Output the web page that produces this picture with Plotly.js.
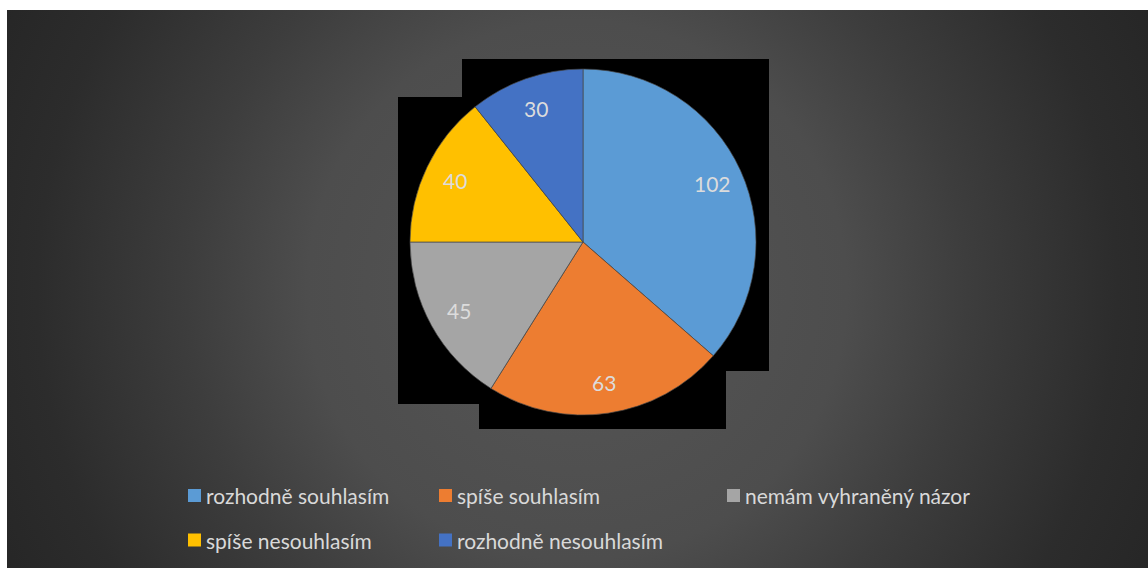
<!DOCTYPE html>
<html>
<head>
<meta charset="utf-8">
<script src="https://cdn.plot.ly/plotly-3.0.1.min.js"></script>
<style>
  html, body { margin: 0; padding: 0; background: #ffffff; }
  #wrap { position: relative; width: 1148px; height: 568px; overflow: hidden; background: #ffffff; }
  #bg { position: absolute; left: 7px; top: 10px; width: 1141px; height: 558px;
        background: radial-gradient(circle at 570px 280px, #565656 0px, #4d4d4d 270px, #3d3d3d 390px, #2c2c2c 540px, #252525 660px); }
  #chart { position: absolute; left: 0; top: 0; width: 1148px; height: 568px; }
</style>
</head>
<body>
<div id="wrap"><div id="bg"></div><div id="chart"></div></div>
<script>
// ---- data ----
const categories = ['rozhodně souhlasím', 'spíše souhlasím', 'nemám vyhraněný názor', 'spíše nesouhlasím', 'rozhodně nesouhlasím'];
const values = [102, 63, 45, 40, 30];
const sliceColors = ['#5b9bd5', '#ed7d31', '#a5a5a5', '#ffc000', '#4472c4'];

// ---- layout helpers ----
const W = 1148, H = 568;
const px = x => x / W;
const py = y => 1 - y / H;

const cx = 583, cy = 242, R = 173;
const domain = { x: [px(cx - R), px(cx + R)], y: [py(cy + R), py(cy - R)] };

const trace = {
  type: 'pie',
  labels: categories,
  values: values,
  sort: false,
  direction: 'clockwise',
  rotation: 0,
  textinfo: 'none',
  hoverinfo: 'label+value',
  marker: { colors: sliceColors, line: { color: 'rgba(70,70,70,0.9)', width: 0.75 } },
  domain: domain,
  showlegend: false
};

// data labels along each slice bisector
const total = values.reduce((a, b) => a + b, 0);
const annotations = [];
let cum = 0;
values.forEach((v, i) => {
  const mid = (cum + v / 2) / total * 2 * Math.PI;
  cum += v;
  const r = 0.82 * R;
  annotations.push({
    xref: 'paper', yref: 'paper',
    x: px(cx + r * Math.sin(mid)), y: py(cy - r * Math.cos(mid)),
    xanchor: 'center', yanchor: 'middle',
    text: String(v), showarrow: false,
    font: { family: 'Lato, "Open Sans", sans-serif', size: 21, color: '#dcdcdc' }
  });
});

// black shadow-like blocks behind the pie (as in the reference)
const blocks = [
  [462, 59, 769, 371],
  [398, 97, 600, 404],
  [479, 300, 726, 429]
];
const shapes = blocks.map(b => ({
  type: 'rect', xref: 'paper', yref: 'paper', layer: 'below',
  x0: px(b[0]), x1: px(b[2]), y0: py(b[3]), y1: py(b[1]),
  fillcolor: '#000000', line: { width: 0 }
}));

// legend (two rows, fixed columns)
const colX = [188, 439, 727];
const rowY = [495.5, 540];
const sq = 13;
categories.forEach((c, i) => {
  const col = i % 3, row = Math.floor(i / 3);
  const x0 = colX[col], yc = rowY[row];
  shapes.push({
    type: 'rect', xref: 'paper', yref: 'paper', layer: 'above',
    x0: px(x0), x1: px(x0 + sq), y0: py(yc + sq / 2), y1: py(yc - sq / 2),
    fillcolor: sliceColors[i], line: { width: 0 }
  });
  annotations.push({
    xref: 'paper', yref: 'paper',
    x: px(x0 + sq + 3), y: py(yc),
    xanchor: 'left', yanchor: 'middle',
    text: c, showarrow: false,
    font: { family: 'Lato, "Open Sans", sans-serif', size: 21, color: '#d9d9d9' }
  });
});

const layout = {
  width: W, height: H,
  margin: { l: 0, r: 0, t: 0, b: 0, pad: 0 },
  paper_bgcolor: 'rgba(0,0,0,0)',
  plot_bgcolor: 'rgba(0,0,0,0)',
  showlegend: false,
  shapes: shapes,
  annotations: annotations
};

Plotly.newPlot('chart', [trace], layout, { displayModeBar: false, staticPlot: true });
</script>
</body>
</html>
